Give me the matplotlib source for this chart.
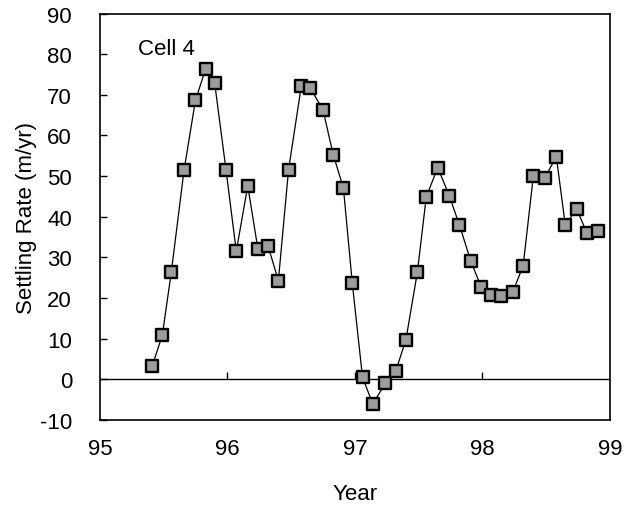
import matplotlib
matplotlib.use('Agg')
import matplotlib.pyplot as plt
import numpy as np

plt.rcParams['font.family'] = ['Liberation Sans', 'DejaVu Sans']

# decimal year (95 = 1995) and settling rate
year = [95.41, 95.49, 95.56, 95.66, 95.75, 95.83, 95.90, 95.99, 96.07, 96.16,
        96.24, 96.32, 96.40, 96.48, 96.58, 96.65, 96.75, 96.83, 96.91, 96.98,
        97.06, 97.14, 97.24, 97.32, 97.40, 97.49, 97.56, 97.65, 97.74, 97.82,
        97.91, 97.99, 98.07, 98.15, 98.24, 98.32, 98.40, 98.49, 98.58, 98.65,
        98.74, 98.82, 98.91]
rate = [3.2, 10.9, 26.3, 51.4, 68.7, 76.4, 73.0, 51.4, 31.5, 47.6,
        32.0, 32.7, 24.3, 51.6, 72.2, 71.7, 66.3, 55.3, 47.1, 23.6,
        0.5, -6.0, -1.0, 2.0, 9.7, 26.3, 44.9, 52.1, 45.2, 38.0,
        29.0, 22.8, 20.8, 20.6, 21.6, 28.0, 50.1, 49.6, 54.8, 38.0,
        41.9, 36.0, 36.5]

xticks = [95, 96, 97, 98, 99]
yticks = [-10, 0, 10, 20, 30, 40, 50, 60, 70, 80, 90]

fig = plt.figure(figsize=(6.32, 5.10), dpi=100)
ax = fig.add_axes([0.158, 0.1745, 0.807, 0.797])

ax.axhline(0, color='black', lw=1.0, zorder=1)
# small upward ticks sitting on the zero line
ax.vlines(xticks[1:-1], 0, 1.7, color='black', lw=1.0, zorder=1)

ax.plot(year, rate, color='black', lw=0.9, zorder=2)
ax.scatter(year, rate, marker='s', s=66, facecolor='#9c9c9c',
           edgecolor='black', linewidths=1.7, zorder=3)

ax.text(95.3, 81.5, 'Cell 4', fontsize=16, ha='left', va='center')

ax.set_xlim(95, 99)
ax.set_ylim(-10, 90)
ax.set_xticks(xticks)
ax.set_xticklabels([str(v) for v in xticks])
ax.set_yticks(yticks)
ax.set_yticklabels([str(v) for v in yticks])

ax.tick_params(axis='x', length=0, pad=13, labelsize=16)
ax.tick_params(axis='y', direction='in', length=5, width=1.0, pad=20, labelsize=16)
for sp in ax.spines.values():
    sp.set_linewidth(1.2)

ax.set_xlabel('Year', fontsize=16, va='center')
ax.xaxis.set_label_coords(0.5, -0.18)
ax.set_ylabel('Settling Rate (m/yr)', fontsize=16, va='center')
ax.yaxis.set_label_coords(-0.143, 0.5)

fig.savefig('out.png', dpi=100)
